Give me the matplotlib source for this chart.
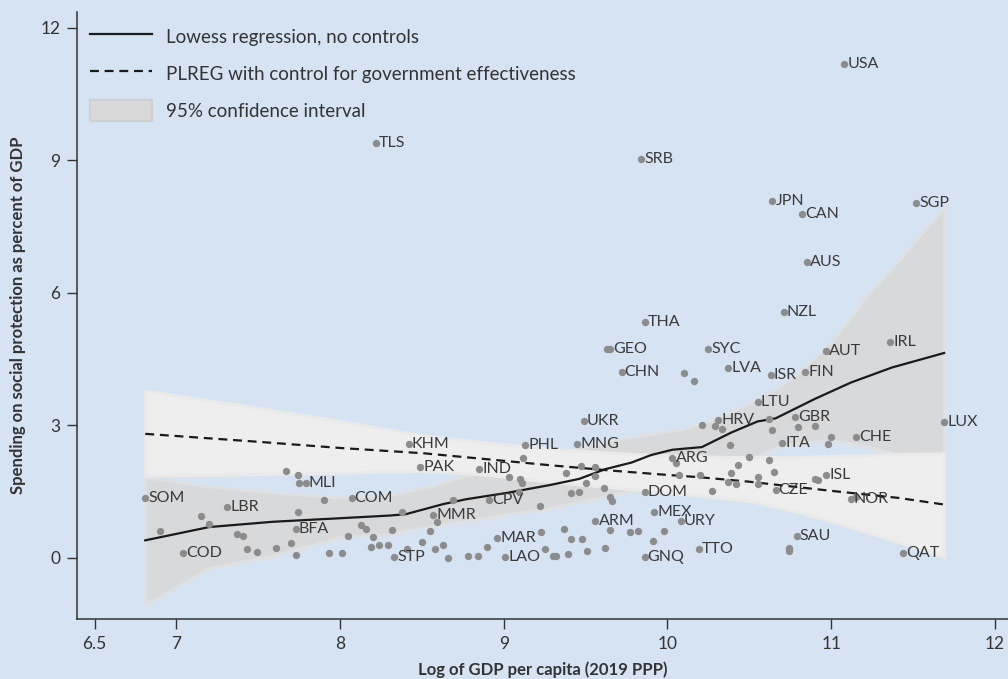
import matplotlib
matplotlib.use("Agg")
import matplotlib.pyplot as plt
from matplotlib.lines import Line2D
from matplotlib.patches import Patch

plt.rcParams['font.family'] = ['Lato', 'DejaVu Sans']

# labelled countries: code, log GDP per capita, spending (% of GDP)
codes = ["USA", "TLS", "SRB", "JPN", "CAN", "SGP", "AUS", "NZL", "THA", "IRL",
         "GEO", "SYC", "AUT", "CHN", "LVA", "ISR", "FIN", "LTU", "LUX", "UKR",
         "HRV", "GBR", "CHE", "ITA", "KHM", "PHL", "MNG", "ARG", "PAK", "IND",
         "ISL", "MLI", "SOM", "COM", "CPV", "DOM", "CZE", "NOR", "LBR", "MMR",
         "MEX", "URY", "ARM", "BFA", "MAR", "SAU", "TTO", "COD", "STP", "LAO",
         "GNQ", "QAT"]
gdp = [11.08, 8.22, 9.84, 10.64, 10.82, 11.52, 10.85, 10.71, 9.86, 11.36,
       9.65, 10.25, 10.97, 9.72, 10.37, 10.63, 10.84, 10.55, 11.69, 9.49,
       10.31, 10.78, 11.15, 10.70, 8.42, 9.13, 9.45, 10.03, 8.49, 8.85,
       10.97, 7.79, 6.81, 8.07, 8.91, 9.86, 10.66, 11.12, 7.31, 8.57,
       9.92, 10.08, 9.56, 7.73, 8.96, 10.79, 10.19, 7.04, 8.33, 9.01,
       9.86, 11.44]
spend = [11.19, 9.39, 9.03, 8.09, 7.79, 8.03, 6.69, 5.56, 5.33, 4.89,
         4.73, 4.72, 4.68, 4.21, 4.30, 4.14, 4.22, 3.54, 3.08, 3.10,
         3.12, 3.18, 2.74, 2.61, 2.57, 2.56, 2.58, 2.26, 2.07, 2.01,
         1.88, 1.69, 1.35, 1.36, 1.31, 1.50, 1.54, 1.34, 1.16, 0.97,
         1.03, 0.84, 0.84, 0.66, 0.46, 0.49, 0.21, 0.11, 0.03, 0.02,
         0.02, 0.11]

# unlabelled countries
gdp_other = [9.63, 10.10, 10.16, 10.21, 10.29, 10.33, 10.62, 10.64, 10.80, 10.90,
             11.00, 10.98, 9.12, 10.38, 10.05, 10.50, 10.62, 10.43, 9.47, 9.56,
             9.38, 9.56, 10.07, 10.20, 10.39, 10.55, 10.65, 10.37, 10.42, 10.55,
             10.90, 10.92, 11.15, 9.50, 9.61, 9.41, 9.46, 9.65, 9.66, 10.27,
             9.22, 9.37, 9.23, 9.65, 9.77, 9.82, 9.98, 9.41, 9.48, 9.91,
             10.74, 10.74, 9.62, 9.51, 9.39, 9.30, 9.32, 9.25, 9.03, 9.10,
             9.11, 9.09, 8.69, 8.59, 8.55, 8.38, 8.32, 8.50, 8.58, 8.63,
             8.66, 8.78, 8.84, 8.90, 8.41, 8.29, 8.24, 8.19, 8.20, 8.13,
             8.16, 8.05, 7.90, 7.75, 7.67, 7.74, 7.74, 7.70, 7.73, 7.93,
             8.01, 7.61, 7.49, 7.43, 7.37, 7.41, 7.15, 7.20, 6.90]
spend_other = [4.73, 4.19, 4.01, 3.02, 2.99, 2.93, 3.14, 2.90, 2.96, 2.99,
               2.74, 2.57, 2.26, 2.56, 2.15, 2.29, 2.21, 2.10, 2.09, 2.07,
               1.92, 1.85, 1.88, 1.88, 1.93, 1.83, 1.94, 1.72, 1.68, 1.67,
               1.79, 1.76, 1.38, 1.69, 1.58, 1.47, 1.50, 1.39, 1.30, 1.51,
               1.18, 0.66, 0.59, 0.63, 0.59, 0.60, 0.60, 0.43, 0.43, 0.39,
               0.22, 0.15, 0.22, 0.15, 0.08, 0.05, 0.05, 0.20, 1.83, 1.78,
               1.70, 1.50, 1.31, 0.82, 0.60, 1.05, 0.64, 0.36, 0.20, 0.30,
               0.01, 0.05, 0.05, 0.24, 0.20, 0.29, 0.30, 0.26, 0.48, 0.74,
               0.66, 0.50, 1.31, 1.69, 1.97, 1.88, 1.04, 0.35, 0.07, 0.11,
               0.12, 0.23, 0.14, 0.20, 0.54, 0.50, 0.94, 0.77, 0.60]

# lowess fit, no controls
lowess_x = [6.81, 7.20, 7.59, 8.00, 8.30, 8.40, 8.63, 8.77, 9.03, 9.28, 9.46,
            9.62, 9.78, 9.90, 10.03, 10.21, 10.39, 10.55, 10.66, 10.90, 11.12,
            11.37, 11.69]
lowess_y = [0.40, 0.70, 0.82, 0.90, 0.96, 0.99, 1.22, 1.33, 1.48, 1.65, 1.79,
            2.01, 2.16, 2.33, 2.45, 2.51, 2.84, 3.09, 3.16, 3.60, 3.97,
            4.31, 4.64]
# lowess 95% CI
lo_ci_x = [6.81, 7.20, 7.59, 8.00, 8.30, 8.57, 8.77, 9.03, 9.26, 9.68, 10.09,
           10.23, 10.49, 10.69, 10.80, 11.00, 11.20, 11.45, 11.69]
lo_ci_hi = [1.83, 1.62, 1.49, 1.37, 1.43, 1.64, 1.86, 2.05, 2.30, 2.69, 2.92,
            3.07, 3.48, 3.90, 4.20, 4.88, 5.86, 6.90, 7.95]
lo_ci_lo = [-1.06, -0.22, 0.05, 0.47, 0.54, 0.73, 0.84, 1.00, 1.11, 1.45, 1.75,
            1.95, 2.20, 2.54, 2.60, 2.67, 2.54, 2.30, 2.10]

# PLREG with control for government effectiveness
plreg_x = [6.81, 7.50, 8.00, 8.51, 8.97, 9.28, 9.65, 10.00, 10.19, 10.49, 11.00,
           11.41, 11.69]
plreg_y = [2.81, 2.63, 2.49, 2.37, 2.21, 2.10, 1.98, 1.88, 1.83, 1.73, 1.52,
           1.36, 1.21]
pl_ci_x = [6.81, 7.50, 8.00, 8.50, 8.85, 9.33, 9.80, 10.19, 10.49, 10.80, 11.10,
           11.41, 11.69]
pl_ci_hi = [3.79, 3.40, 3.10, 2.78, 2.63, 2.46, 2.35, 2.30, 2.28, 2.29, 2.32,
            2.35, 2.37]
pl_ci_lo = [1.86, 1.90, 1.93, 1.97, 1.90, 1.71, 1.55, 1.41, 1.30, 1.04, 0.72,
            0.36, 0.02]

bg = '#d5e3f2'
ink = '#333333'

fig = plt.figure(figsize=(10.08, 6.79), dpi=100, facecolor=bg)
ax = fig.add_axes([0.0764, 0.0884, 0.9236, 0.8935], facecolor=bg)

ax.fill_between(lo_ci_x, lo_ci_lo, lo_ci_hi, facecolor='#d8d9db',
                edgecolor='#dfe0e2', linewidth=2.2, zorder=1)
ax.fill_between(pl_ci_x, pl_ci_lo, pl_ci_hi, facecolor='#eeeeee',
                edgecolor='#eaeaea', linewidth=2.2, zorder=2)
ax.plot(plreg_x, plreg_y, color='#1a1a1a', lw=1.6, ls=(0, (4, 2.6)), zorder=3)
ax.plot(lowess_x, lowess_y, color='#1a1a1a', lw=1.6, zorder=3)

ax.scatter(gdp_other, spend_other, s=28, color='#8c8c8c', linewidths=0, zorder=4)
ax.scatter(gdp, spend, s=28, color='#8c8c8c', linewidths=0, zorder=4)
for c, x, y in zip(codes, gdp, spend):
    ax.annotate(c, (x, y), xytext=(2.2, 0), textcoords='offset points',
                ha='left', va='center', fontsize=11.5, color='#3a3a3a', zorder=5)

ax.set_xlim(6.393, 12.08)
ax.set_ylim(-1.38, 12.35)
ax.set_xticks([6.5, 7, 8, 9, 10, 11, 12])
ax.set_xticklabels(['6.5', '7', '8', '9', '10', '11', '12'])
ax.set_yticks([0, 3, 6, 9, 12])

for s in ['top', 'right']:
    ax.spines[s].set_visible(False)
for s in ['left', 'bottom']:
    ax.spines[s].set_color(ink)
    ax.spines[s].set_linewidth(1.1)
ax.tick_params(direction='out', length=7, width=1, color=ink,
               labelsize=12.5, labelcolor=ink, pad=5)

ax.set_xlabel('Log of GDP per capita (2019 PPP)', fontsize=12, fontweight='bold',
              color=ink, labelpad=7)
ax.set_ylabel('Spending on social protection as percent of GDP', fontsize=12,
              fontweight='bold', color=ink, labelpad=10)

handles = [
    Line2D([], [], color='#1a1a1a', lw=1.6),
    Line2D([], [], color='#1a1a1a', lw=1.6, ls=(0, (4, 2.6))),
    Patch(facecolor='#d9d9d9', edgecolor='#d0d0d0', linewidth=1.5),
]
labels = ['Lowess regression, no controls',
          'PLREG with control for government effectiveness',
          '95% confidence interval']
leg = ax.legend(handles, labels, loc='upper left', bbox_to_anchor=(0.014, 0.978),
                frameon=False, fontsize=13.5, handlelength=3.3, handleheight=1.4,
                handletextpad=0.75, labelspacing=0.82, borderpad=0, borderaxespad=0)
for t in leg.get_texts():
    t.set_color(ink)

fig.savefig('out.png', dpi=100, facecolor=bg)
